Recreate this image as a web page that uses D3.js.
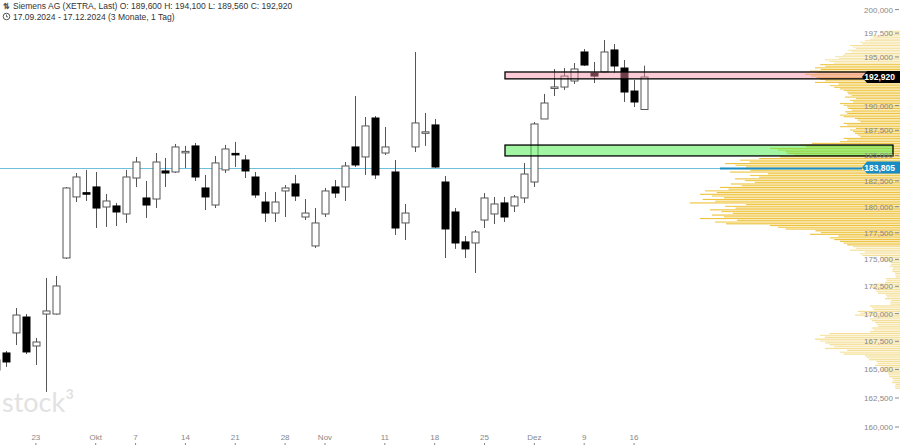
<!DOCTYPE html>
<html><head><meta charset="utf-8">
<script src="https://cdn.jsdelivr.net/npm/d3@7"></script>
<style>body{margin:0;background:#fff}svg{display:block;font-family:"Liberation Sans",Arial,sans-serif}</style>
</head><body>
<svg id="c" width="900" height="445"></svg>
<script>
const dates = ["2024-09-17","2024-09-18","2024-09-19","2024-09-20","2024-09-23","2024-09-24","2024-09-25","2024-09-26","2024-09-27","2024-09-30","2024-10-01","2024-10-02","2024-10-03","2024-10-04","2024-10-07","2024-10-08","2024-10-09","2024-10-10","2024-10-11","2024-10-14","2024-10-15","2024-10-16","2024-10-17","2024-10-18","2024-10-21","2024-10-22","2024-10-23","2024-10-24","2024-10-25","2024-10-28","2024-10-29","2024-10-30","2024-10-31","2024-11-01","2024-11-04","2024-11-05","2024-11-06","2024-11-07","2024-11-08","2024-11-11","2024-11-12","2024-11-13","2024-11-14","2024-11-15","2024-11-18","2024-11-19","2024-11-20","2024-11-21","2024-11-22","2024-11-25","2024-11-26","2024-11-27","2024-11-28","2024-11-29","2024-12-02","2024-12-03","2024-12-04","2024-12-05","2024-12-06","2024-12-09","2024-12-10","2024-12-11","2024-12-12","2024-12-13","2024-12-16","2024-12-17"];
const open  = [164950,166460,168250,169690,167080,169960,169960,175130,180940,181350,181910,179970,180070,179300,182780,180840,180740,183470,183370,185300,185940,181810,180160,183570,185200,184550,182880,180450,179390,181520,182200,179010,176260,179300,181910,181910,185840,184850,188740,185240,183370,178440,185840,187300,188040,182390,179490,176640,176540,178720,179300,180360,180070,180840,182390,188640,191850,191890,192510,195520,193330,193440,195730,193850,191480,189600];
const high  = [166280,166640,170510,169960,167800,173270,173460,181900,183270,183570,183370,181230,180360,183570,184850,182490,185240,184750,186140,185940,186240,183080,184940,186040,186340,185040,183370,181420,181420,182100,183080,180740,179870,181810,182590,184350,190970,188840,188940,187840,184550,180260,195520,189250,188640,182980,179870,177200,177770,181320,180940,180940,181130,184260,188340,191180,193750,193850,194370,195830,194480,196780,196360,194680,192610,194100];
const low   = [164070,165220,167170,166370,165390,163030,169900,175040,180450,180550,177960,178060,178150,178440,181900,178920,179870,181910,183270,183760,182490,179680,179870,183270,183860,182780,180840,178530,178530,179010,180550,178720,176070,179010,180840,180550,183860,183080,182690,185040,177300,176820,185340,185940,183760,175130,175980,175130,173730,177960,178340,178530,179490,180360,181910,188640,190970,191590,192200,194060,192300,193330,193330,190360,189850,189560];
const close = [165840,165660,169870,166550,167440,170240,172530,181810,182880,181300,179870,180550,179490,182880,184350,180160,184350,183270,185840,185400,182880,180940,184260,185640,185150,183470,181130,179390,180450,181810,181030,179390,178440,181520,181320,183960,184060,187940,183080,185840,177960,179390,188240,187350,183860,177870,176540,175980,177580,180840,180260,179010,180940,183170,188140,190260,191900,193020,193750,194160,193020,195520,194060,191380,190360,192920];

const yTicks = [200000,197500,195000,192500,190000,187500,185000,182500,180000,177500,175000,172500,170000,167500,165000,162500,160000];
const xTickLabels = [["2024-09-23","23"],["2024-10-01","Okt"],["2024-10-07","7"],["2024-10-14","14"],["2024-10-21","21"],["2024-10-28","28"],["2024-11-01","Nov"],["2024-11-11","11"],["2024-11-18","18"],["2024-11-25","25"],["2024-12-02","Dez"],["2024-12-09","9"],["2024-12-16","16"]];

const profilePrices = [197500,197000,196500,196000,195500,195000,194500,194000,193500,193000,192500,192000,191500,191000,190500,190000,189500,189000,188500,188000,187500,187000,186500,186000,185500,185000,184500,184000,183500,183000,182500,182000,181500,181000,180500,180000,179500,179000,178500,178000,177500,177000,176500,176000,175500,175000,174500,174000,173500,173000,172500,172000,171500,171000,170500,170000,169500,169000,168500,168000,167500,167000,166500,166000,165500,165000,164500,164000,163500];
const profileVolume = [15,30,40,50,55,65,75,85,90,95,85,70,60,55,50,60,55,60,45,60,50,45,60,100,130,120,160,175,170,150,165,180,195,200,210,175,190,200,185,130,90,70,60,50,40,20,10,8,5,15,30,25,15,10,30,45,30,25,30,80,85,75,60,35,25,20,12,8,5];

const resistanceZone = [192730,193440];
const supportZone = [184950,186030];
const lastPrice = 192920;
const markLevel = 183805;

const svg = d3.select("#c");
const y = d3.scaleLog().domain([160000,200000]).range([427,9.6]);
const x = d3.scaleLinear().domain([0,65]).range([-4,644]);
const idx = d => dates.indexOf(d);
const fmt = d3.format(",.0f");

// volume profile
const vmax = d3.max(profileVolume);
const vx = d3.scaleLinear().domain([0,vmax]).range([0,210]);
const prof = svg.append("g");
profilePrices.forEach((p,i)=>{
  const y0 = y(p+250), y1 = y(p-250);
  const inVA = p>=176500 && p<=194000;
  const n = 3;
  for(let k=0;k<n;k++){
    const h=(y1-y0)/n;
    const w = vx(profileVolume[i])*(1 - 0.12*((k+i)%3)/2);
    prof.append("rect").attr("x",900-w).attr("y",y0+k*h).attr("width",w).attr("height",Math.max(h-0.6,0.8))
      .attr("fill", inVA ? (k%2? "#f0cc4e":"#eec23e") : (k%2? "#f7e6aa":"#f4df98"));
  }
});

// watermark
svg.append("text").attr("x",2).attr("y",412).attr("font-size",27).attr("fill","#e2e2e2")
  .attr("font-family","Lato, sans-serif").text("stock³");

// blue level line
const ml = Math.round(y(markLevel))+0.5;
svg.append("line").attr("x1",0).attr("x2",862).attr("y1",ml).attr("y2",ml)
  .attr("stroke","#6fc0de").attr("stroke-width",1);
svg.append("line").attr("x1",720).attr("x2",862).attr("y1",ml).attr("y2",ml)
  .attr("stroke","#1a8cc4").attr("stroke-width",2);

// candles
const cg = svg.append("g");
dates.forEach((d,i)=>{
  const cx = Math.round(x(i))+0.5;
  const up = close[i]>=open[i];
  cg.append("line").attr("x1",cx).attr("x2",cx).attr("y1",y(high[i])).attr("y2",y(low[i])).attr("stroke","#555").attr("stroke-width",1);
  const top = y(Math.max(open[i],close[i])), bot = y(Math.min(open[i],close[i]));
  const h = Math.max(bot-top,1.5);
  cg.append("rect").attr("x",cx-3.5).attr("y",top).attr("width",7).attr("height",h)
    .attr("fill", up? "#fff":"#000").attr("stroke", up? "#555":"#000").attr("stroke-width",1);
});

// zones
svg.append("rect").attr("x",505).attr("y",y(resistanceZone[1])).attr("width",362)
  .attr("height",y(resistanceZone[0])-y(resistanceZone[1]))
  .attr("fill","rgba(245,140,160,0.45)").attr("stroke","#000").attr("stroke-width",1.3);
svg.append("rect").attr("x",505).attr("y",y(supportZone[1])).attr("width",388)
  .attr("height",y(supportZone[0])-y(supportZone[1]))
  .attr("fill","rgba(70,235,70,0.5)").attr("stroke","#000").attr("stroke-width",1.3);

// y axis (labels hidden where a price tag covers them)
const ya = svg.append("g");
yTicks.forEach(t=>{
  ya.append("line").attr("x1",895).attr("x2",899).attr("y1",y(t)).attr("y2",y(t)).attr("stroke","#888");
  if (Math.abs(y(t)-y(lastPrice))<8 || Math.abs(y(t)-y(markLevel))<8) return;
  ya.append("text").attr("x",893).attr("y",y(t)+3).attr("text-anchor","end").attr("font-size",8).attr("fill","#888").text(fmt(t));
});

// price labels
function tag(v,color){
  const yy=y(v);
  svg.append("path").attr("d",`M862,${yy} L867,${yy-6} L900,${yy-6} L900,${yy+6} L867,${yy+6} Z`).attr("fill",color);
  svg.append("text").attr("x",895).attr("y",yy+3).attr("text-anchor","end").attr("font-size",8.5).attr("font-weight","bold").attr("fill","#fff").text(fmt(v));
}
tag(lastPrice,"#000");
tag(markLevel,"#1a8cc4");

// x axis
xTickLabels.forEach(([d,l])=>{
  const xx=x(idx(d));
  svg.append("text").attr("x",xx).attr("y",440).attr("text-anchor","middle").attr("font-size",8).attr("fill","#888").text(l);
  svg.append("line").attr("x1",xx).attr("x2",xx).attr("y1",443).attr("y2",445).attr("stroke","#888");
});

// header
svg.append("text").attr("x",3).attr("y",9).attr("font-size",8).attr("fill","#555").attr("font-weight","bold").text("⇅");
svg.append("text").attr("x",13).attr("y",9).attr("font-size",8.5).attr("fill","#333")
  .text("Siemens AG (XETRA, Last)  O: 189,600  H: 194,100  L: 189,560  C: 192,920");
svg.append("circle").attr("cx",6.5).attr("cy",16.5).attr("r",3.3).attr("fill","none").attr("stroke","#444").attr("stroke-width",0.9);
svg.append("path").attr("d","M6.5,14.5 L6.5,16.8 L8,16.8").attr("fill","none").attr("stroke","#444").attr("stroke-width",0.8);
svg.append("text").attr("x",13).attr("y",19.5).attr("font-size",8.5).attr("fill","#333")
  .text("17.09.2024 - 17.12.2024  (3 Monate, 1 Tag)");
</script>
</body></html>
